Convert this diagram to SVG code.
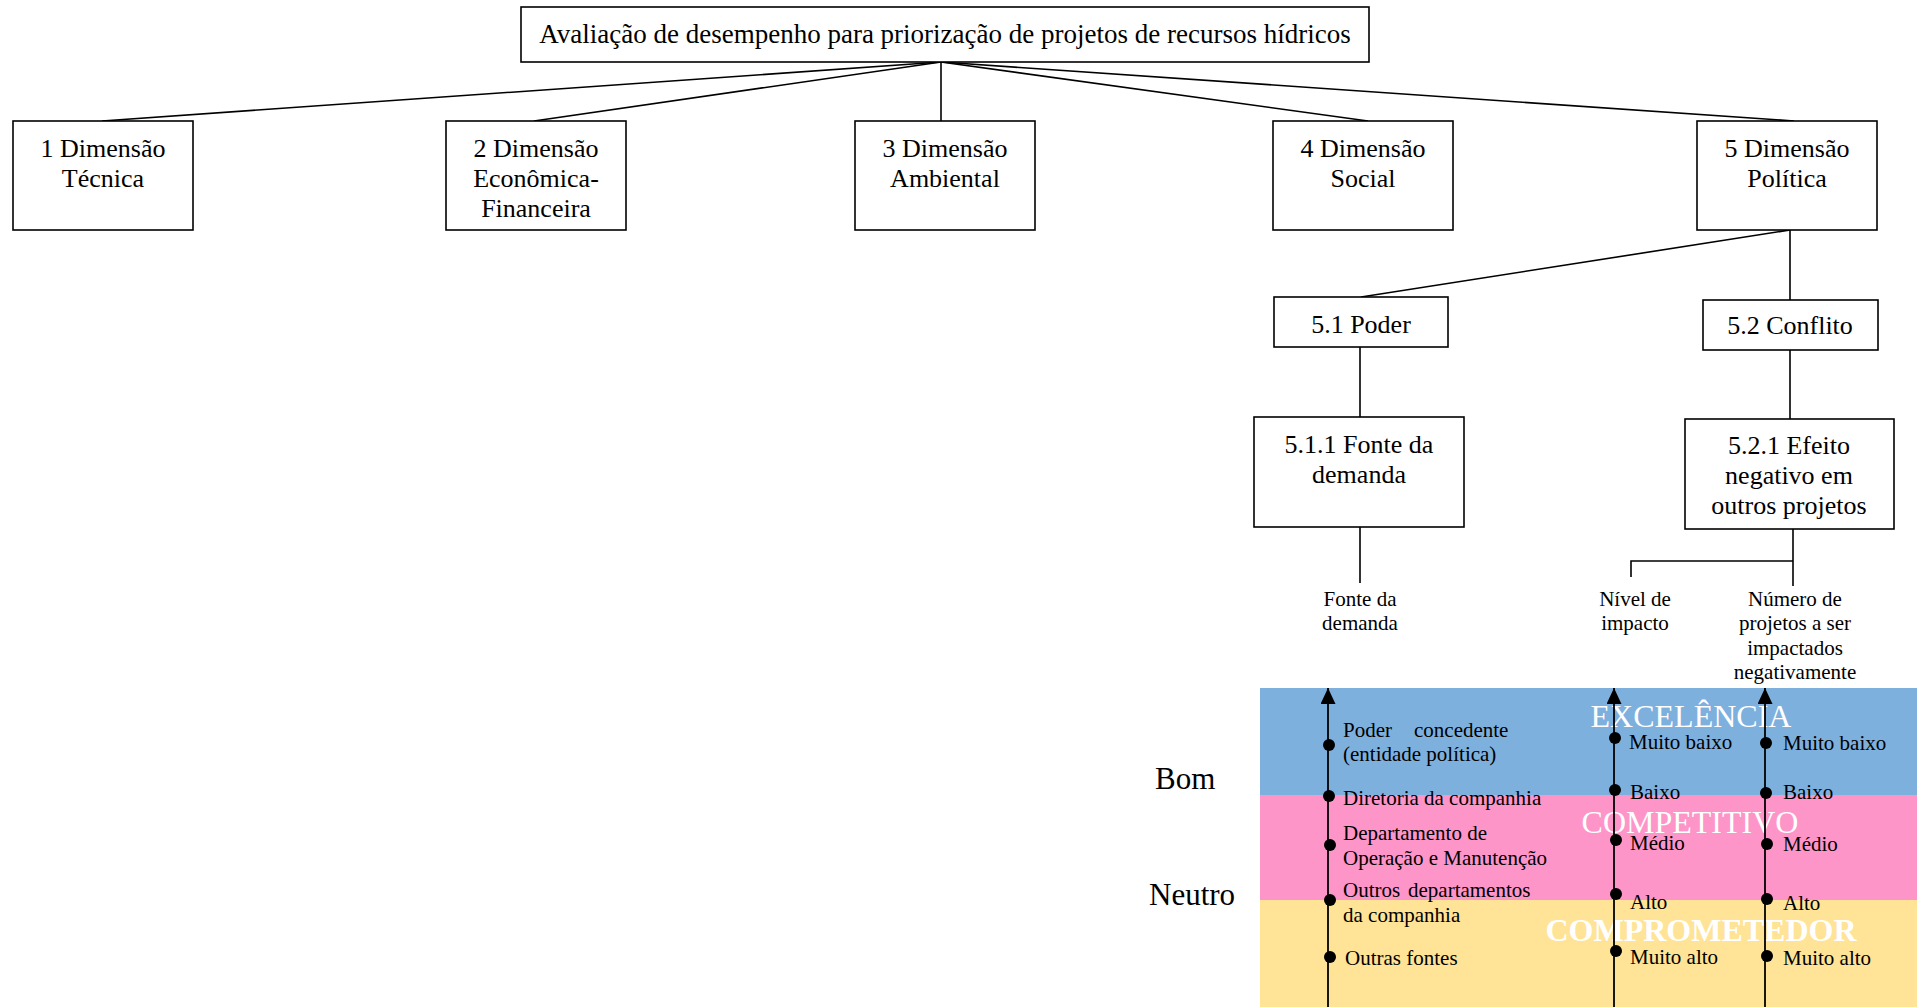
<svg xmlns="http://www.w3.org/2000/svg" width="1917" height="1007" viewBox="0 0 1917 1007">
  <defs>
    <style>
      .box { fill: #ffffff; stroke: #000000; stroke-width: 1.6; }
      .lnk { stroke: #000000; stroke-width: 1.6; fill: none; }
      .axis { stroke: #000000; stroke-width: 1.8; fill: none; }
      .t26 { font-family: "Liberation Serif", "Times New Roman", serif; font-size: 26px; fill: #000000; text-anchor: middle; }
      .title { font-size: 27px; }
      .t21 { font-family: "Liberation Serif", "Times New Roman", serif; font-size: 21px; fill: #000000; }
      .mid { text-anchor: middle; }
      .side { font-family: "Liberation Serif", "Times New Roman", serif; font-size: 31px; fill: #000000; }
      .band { font-family: "Liberation Serif", "Times New Roman", serif; font-size: 32px; fill: #ffffff; text-anchor: middle; }
    </style>
    <marker id="tip" viewBox="0 0 16 15" refX="16" refY="7.5" markerWidth="16" markerHeight="15" markerUnits="userSpaceOnUse" orient="auto">
      <path d="M0,0 L16,7.5 L0,15 Z" fill="#000000"/>
    </marker>
  </defs>

  <!-- performance bands -->
  <g id="bands">
    <rect x="1260" y="688" width="657" height="107" fill="#7eb0de"/>
    <rect x="1260" y="795" width="657" height="105" fill="#fe95c8"/>
    <rect x="1260" y="900" width="657" height="107" fill="#ffe396"/>
    <text class="band" x="1691" y="727">EXCELÊNCIA</text>
    <text class="band" x="1690" y="833">COMPETITIVO</text>
    <text class="band" x="1701" y="941" font-weight="bold">COMPROMETEDOR</text>
  </g>

  <!-- tree connectors -->
  <g id="connectors">
    <line class="lnk" x1="941" y1="62" x2="102" y2="121"/>
    <line class="lnk" x1="941" y1="62" x2="534" y2="121"/>
    <line class="lnk" x1="941" y1="62" x2="941" y2="121"/>
    <line class="lnk" x1="941" y1="62" x2="1368" y2="121"/>
    <line class="lnk" x1="941" y1="62" x2="1794" y2="121"/>
    <line class="lnk" x1="1790" y1="230" x2="1361" y2="297"/>
    <line class="lnk" x1="1790" y1="230" x2="1790" y2="300"/>
    <line class="lnk" x1="1360" y1="347" x2="1360" y2="417"/>
    <line class="lnk" x1="1790" y1="350" x2="1790" y2="419"/>
    <line class="lnk" x1="1360" y1="527" x2="1360" y2="583"/>
    <polyline class="lnk" points="1631,577 1631,561 1793,561"/>
    <line class="lnk" x1="1793" y1="529" x2="1793" y2="586"/>
  </g>

  <g id="root">
    <rect class="box" x="521" y="7" width="848" height="55"/>
    <text class="t26 title" x="945" y="43">Avaliação de desempenho para priorização de projetos de recursos hídricos</text>
  </g>

  <g id="dim1">
    <rect class="box" x="13" y="121" width="180" height="109"/>
    <text class="t26" x="103" y="157">1 Dimensão</text>
    <text class="t26" x="103" y="187">Técnica</text>
  </g>
  <g id="dim2">
    <rect class="box" x="446" y="121" width="180" height="109"/>
    <text class="t26" x="536" y="157">2 Dimensão</text>
    <text class="t26" x="536" y="187">Econômica-</text>
    <text class="t26" x="536" y="217">Financeira</text>
  </g>
  <g id="dim3">
    <rect class="box" x="855" y="121" width="180" height="109"/>
    <text class="t26" x="945" y="157">3 Dimensão</text>
    <text class="t26" x="945" y="187">Ambiental</text>
  </g>
  <g id="dim4">
    <rect class="box" x="1273" y="121" width="180" height="109"/>
    <text class="t26" x="1363" y="157">4 Dimensão</text>
    <text class="t26" x="1363" y="187">Social</text>
  </g>
  <g id="dim5">
    <rect class="box" x="1697" y="121" width="180" height="109"/>
    <text class="t26" x="1787" y="157">5 Dimensão</text>
    <text class="t26" x="1787" y="187">Política</text>
  </g>

  <g id="poder">
    <rect class="box" x="1274" y="297" width="174" height="50"/>
    <text class="t26" x="1361" y="333">5.1 Poder</text>
  </g>
  <g id="conflito">
    <rect class="box" x="1703" y="300" width="175" height="50"/>
    <text class="t26" x="1790" y="334">5.2 Conflito</text>
  </g>
  <g id="fonte">
    <rect class="box" x="1254" y="417" width="210" height="110"/>
    <text class="t26" x="1359" y="453">5.1.1 Fonte da</text>
    <text class="t26" x="1359" y="483">demanda</text>
  </g>
  <g id="efeito">
    <rect class="box" x="1685" y="419" width="209" height="110"/>
    <text class="t26" x="1789" y="454">5.2.1 Efeito</text>
    <text class="t26" x="1789" y="484">negativo em</text>
    <text class="t26" x="1789" y="514">outros projetos</text>
  </g>

  <!-- indicator names -->
  <g id="ind-fonte">
    <text class="t21 mid" x="1360" y="606">Fonte da</text>
    <text class="t21 mid" x="1360" y="630">demanda</text>
  </g>
  <g id="ind-nivel">
    <text class="t21 mid" x="1635" y="606">Nível de</text>
    <text class="t21 mid" x="1635" y="630">impacto</text>
  </g>
  <g id="ind-numero">
    <text class="t21 mid" x="1795" y="606">Número de</text>
    <text class="t21 mid" x="1795" y="630">projetos a ser</text>
    <text class="t21 mid" x="1795" y="655">impactados</text>
    <text class="t21 mid" x="1795" y="679">negativamente</text>
  </g>

  <!-- side qualifiers -->
  <g id="qualifiers">
    <text class="side" x="1155" y="789">Bom</text>
    <text class="side" x="1149" y="905">Neutro</text>
  </g>

  <!-- scale axes -->
  <g id="scale-fonte">
    <line class="axis" x1="1328" y1="1007" x2="1328" y2="688" marker-end="url(#tip)"/>
    <circle cx="1329" cy="745" r="6"/>
    <circle cx="1329" cy="796" r="6"/>
    <circle cx="1330" cy="845" r="6"/>
    <circle cx="1330" cy="900" r="6"/>
    <circle cx="1330" cy="957" r="6"/>
    <text class="t21" y="737"><tspan x="1343">Poder</tspan><tspan x="1414">concedente</tspan></text>
    <text class="t21" x="1343" y="761">(entidade política)</text>
    <text class="t21" x="1343" y="805">Diretoria da companhia</text>
    <text class="t21" x="1343" y="840">Departamento de</text>
    <text class="t21" x="1343" y="865">Operação e Manutenção</text>
    <text class="t21" y="897"><tspan x="1343">Outros</tspan><tspan x="1408">departamentos</tspan></text>
    <text class="t21" x="1343" y="922">da companhia</text>
    <text class="t21" x="1345" y="965">Outras fontes</text>
  </g>
  <g id="scale-nivel">
    <line class="axis" x1="1614" y1="1007" x2="1614" y2="688" marker-end="url(#tip)"/>
    <circle cx="1615" cy="738" r="6"/>
    <circle cx="1615" cy="790" r="6"/>
    <circle cx="1616" cy="840" r="6"/>
    <circle cx="1616" cy="894" r="6"/>
    <circle cx="1616" cy="951" r="6"/>
    <text class="t21" x="1629" y="749">Muito baixo</text>
    <text class="t21" x="1630" y="799">Baixo</text>
    <text class="t21" x="1630" y="850">Médio</text>
    <text class="t21" x="1630" y="909">Alto</text>
    <text class="t21" x="1630" y="964">Muito alto</text>
  </g>
  <g id="scale-numero">
    <line class="axis" x1="1765" y1="1007" x2="1765" y2="688" marker-end="url(#tip)"/>
    <circle cx="1766" cy="743" r="6"/>
    <circle cx="1766" cy="793" r="6"/>
    <circle cx="1767" cy="844" r="6"/>
    <circle cx="1767" cy="899" r="6"/>
    <circle cx="1767" cy="956" r="6"/>
    <text class="t21" x="1783" y="750">Muito baixo</text>
    <text class="t21" x="1783" y="799">Baixo</text>
    <text class="t21" x="1783" y="851">Médio</text>
    <text class="t21" x="1783" y="910">Alto</text>
    <text class="t21" x="1783" y="965">Muito alto</text>
  </g>
</svg>
